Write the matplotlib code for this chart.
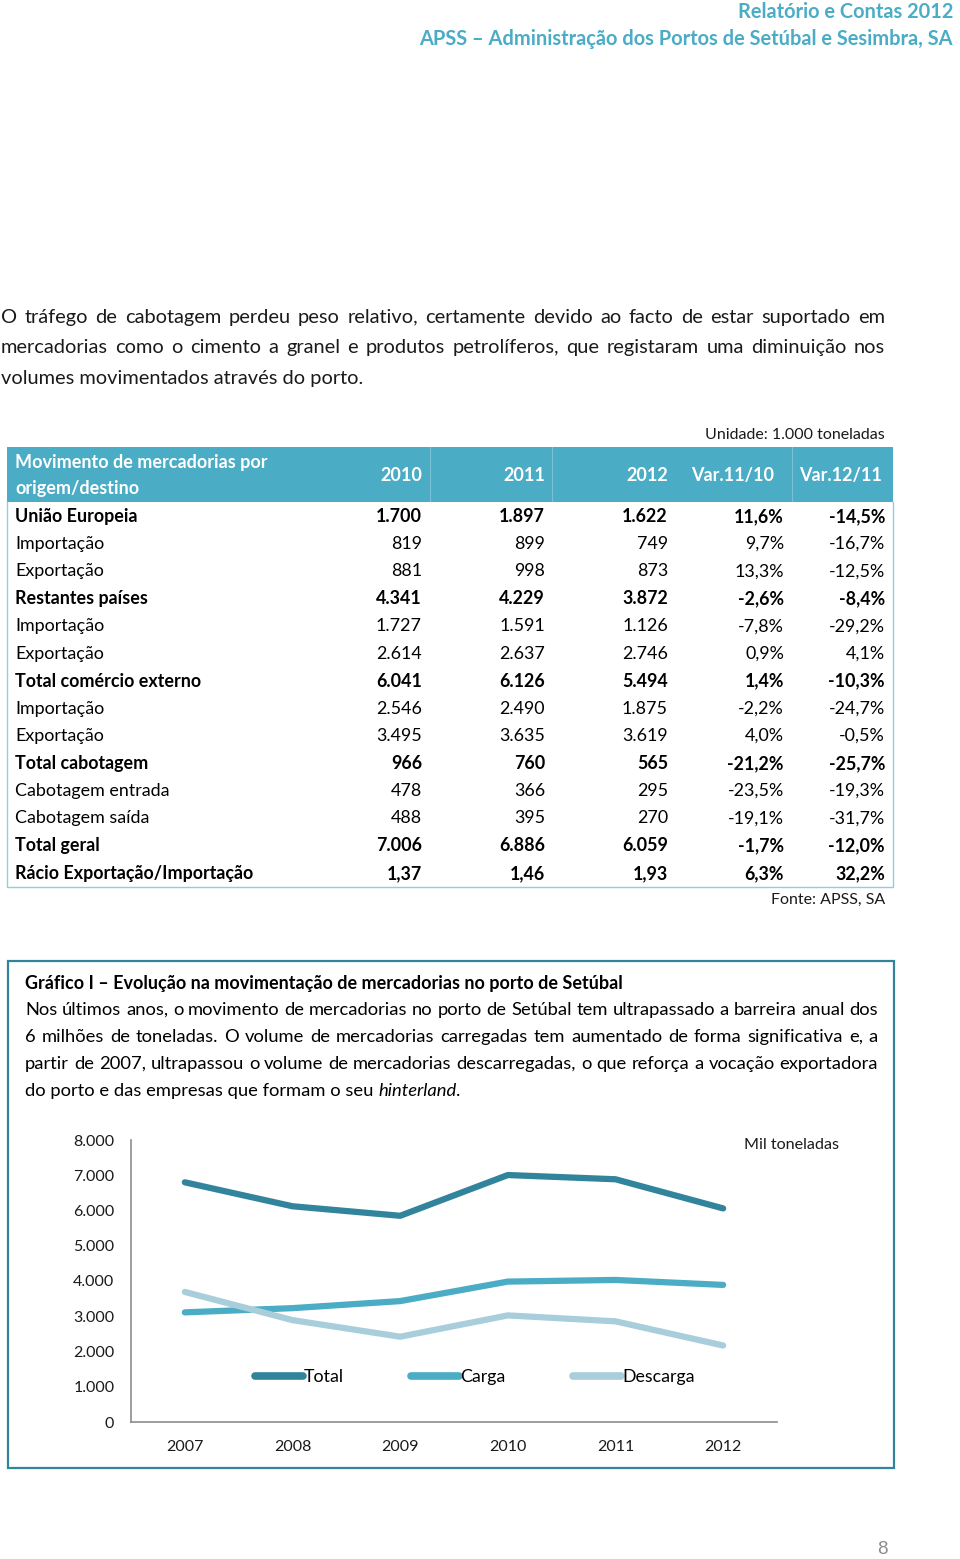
import matplotlib
matplotlib.use("Agg")
import matplotlib.pyplot as plt
from matplotlib.patches import Rectangle

# ---- data -------------------------------------------------------------
years = [2007, 2008, 2009, 2010, 2011, 2012]
total = [6800, 6120, 5850, 7006, 6886, 6059]
carga = [3110, 3230, 3430, 3983, 4030, 3889]
descarga = [3690, 2890, 2420, 3024, 2856, 2170]
yticks = [0, 1000, 2000, 3000, 4000, 5000, 6000, 7000, 8000]

table_cols = ["2010", "2011", "2012", "Var.11/10", "Var.12/11"]
row_labels = ["União Europeia", "Importação", "Exportação", "Restantes países",
              "Importação", "Exportação", "Total comércio externo", "Importação",
              "Exportação", "Total cabotagem", "Cabotagem entrada", "Cabotagem saída",
              "Total geral", "Rácio Exportação/Importação"]
row_bold = [True, False, False, True, False, False, True, False, False,
            True, False, False, True, True]
col_2010 = ["1.700", "819", "881", "4.341", "1.727", "2.614", "6.041", "2.546",
            "3.495", "966", "478", "488", "7.006", "1,37"]
col_2011 = ["1.897", "899", "998", "4.229", "1.591", "2.637", "6.126", "2.490",
            "3.635", "760", "366", "395", "6.886", "1,46"]
col_2012 = ["1.622", "749", "873", "3.872", "1.126", "2.746", "5.494", "1.875",
            "3.619", "565", "295", "270", "6.059", "1,93"]
var_11_10 = ["11,6%", "9,7%", "13,3%", "-2,6%", "-7,8%", "0,9%", "1,4%", "-2,2%",
             "4,0%", "-21,2%", "-23,5%", "-19,1%", "-1,7%", "6,3%"]
var_12_11 = ["-14,5%", "-16,7%", "-12,5%", "-8,4%", "-29,2%", "4,1%", "-10,3%",
             "-24,7%", "-0,5%", "-25,7%", "-19,3%", "-31,7%", "-12,0%", "32,2%"]

intro = ["O tráfego de cabotagem perdeu peso relativo, certamente devido ao facto de estar suportado em",
         "mercadorias como o cimento a granel e produtos petrolíferos, que registaram uma diminuição nos",
         "volumes movimentados através do porto."]
box_title = "Gráfico I – Evolução na movimentação de mercadorias no porto de Setúbal"
box_text = ["Nos últimos anos, o movimento de mercadorias no porto de Setúbal tem ultrapassado a barreira anual dos",
            "6 milhões de toneladas. O volume de mercadorias carregadas tem aumentado de forma significativa e, a",
            "partir de 2007, ultrapassou o volume de mercadorias descarregadas, o que reforça a vocação exportadora"]

# ---- style ------------------------------------------------------------
TEAL = "#4BACC6"
DARK = "#31849B"
PALE = "#A8CEDB"
FONT = ["Lato", "DejaVu Sans"]

plt.rcParams["font.family"] = FONT

fig = plt.figure(figsize=(9.6, 15.59), dpi=100)
page = fig.add_axes([0, 0, 1, 1])
page.set_xlim(0, 960)
page.set_ylim(1559, 0)
page.axis("off")
renderer = fig.canvas.get_renderer()


def justify(text, x0, x1, y, **kw):
    words = text.split()
    arts = [page.text(0, y, w, va="center", ha="left", **kw) for w in words]
    widths = [a.get_window_extent(renderer).width for a in arts]
    gap = (x1 - x0 - sum(widths)) / (len(words) - 1)
    x = x0
    for a, w in zip(arts, widths):
        a.set_x(x)
        x += w + gap


def flow(pieces, x0, y, **kw):
    x = x0
    for txt, extra in pieces:
        a = page.text(x, y, txt, va="center", ha="left", **kw, **extra)
        x += a.get_window_extent(renderer).width


# header
page.text(953, 12, "Relatório e Contas 2012", ha="right", va="center",
          fontsize=14.4, fontweight="bold", color=TEAL)
page.text(953, 39, "APSS – Administração dos Portos de Setúbal e Sesimbra, SA",
          ha="right", va="center", fontsize=14.4, fontweight="bold", color=TEAL)

# intro paragraph
justify(intro[0], 1, 885, 317, fontsize=14.4, color="#1a1a1a")
justify(intro[1], 1, 885, 347, fontsize=14.4, color="#1a1a1a")
page.text(1, 378, intro[2], va="center", fontsize=14.4, color="#1a1a1a")

# table
page.text(885, 435, "Unidade: 1.000 toneladas", ha="right", va="center", fontsize=11.5,
          color="#1a1a1a")
page.add_patch(Rectangle((7, 447), 886, 55, facecolor=TEAL, edgecolor="none"))
for xs in [430, 552, 792]:
    page.plot([xs, xs], [447, 502], color="white", lw=0.8, alpha=0.25)
page.plot([7, 7, 893, 893], [502, 887, 887, 502], color="#92CDDC", lw=1)
page.text(15, 462, "Movimento de mercadorias por", va="center", fontsize=13,
          fontweight="bold", color="white")
page.text(15, 488, "origem/destino", va="center", fontsize=13,
          fontweight="bold", color="white")
col_x = [422, 545, 668, 774, 882]
for cx, name in zip(col_x, table_cols):
    page.text(cx, 475, name, ha="right", va="center", fontsize=13,
              fontweight="bold", color="white")

value_x = [422, 545, 668, 784, 885]
columns = [col_2010, col_2011, col_2012, var_11_10, var_12_11]
for i, label in enumerate(row_labels):
    y = 516.5 + i * 27.45
    wt = "bold" if row_bold[i] else "normal"
    page.text(15, y, label, va="center", fontsize=12.9, fontweight=wt, color="black")
    for cx, col in zip(value_x, columns):
        page.text(cx, y, col[i], ha="right", va="center", fontsize=12.9,
                  fontweight=wt, color="black")
page.text(885, 900, "Fonte: APSS, SA", ha="right", va="center", fontsize=11.5,
          color="#1a1a1a")

# chart box
page.add_patch(Rectangle((8, 961), 886, 507, facecolor="none", edgecolor=DARK, lw=1.6))
page.text(25, 983, box_title, va="center", fontsize=13, fontweight="bold", color="black")
for k, line in enumerate(box_text):
    justify(line, 25, 878, 1010 + k * 27, fontsize=13.2, color="black")
flow([("do porto e das empresas que formam o seu ", {}), ("hinterland", {"style": "italic"}),
      (".", {})], 25, 1091, fontsize=13.2, color="black")

# line chart
ax = fig.add_axes([131 / 960, (1559 - 1422) / 1559, 646 / 960, 282 / 1559])
x = range(len(years))
ax.plot(x, total, color=DARK, lw=4.5, solid_capstyle="round", solid_joinstyle="round",
        label="Total")
ax.plot(x, carga, color=TEAL, lw=4.5, solid_capstyle="round", solid_joinstyle="round",
        label="Carga")
ax.plot(x, descarga, color=PALE, lw=4.5, solid_capstyle="round", solid_joinstyle="round",
        label="Descarga")
ax.set_xlim(-0.5, len(years) - 0.5)
ax.set_ylim(0, 8000)
ax.set_xticks(list(x))
ax.set_xticklabels([str(v) for v in years])
ax.set_yticks(yticks)
ax.set_yticklabels([f"{v:,}".replace(",", ".") for v in yticks])
ax.tick_params(length=0, labelsize=11.5, colors="#1a1a1a")
ax.tick_params(axis="y", pad=12)
ax.tick_params(axis="x", pad=13)
for s in ["top", "right"]:
    ax.spines[s].set_visible(False)
for s in ["left", "bottom"]:
    ax.spines[s].set_color("#8c8c8c")
    ax.spines[s].set_linewidth(1.2)
ax.patch.set_alpha(0)
leg = ax.legend(ncol=3, loc="center left", bbox_to_anchor=(0.192, 0.16), frameon=False,
                fontsize=12.8, handlelength=2.7, handletextpad=0.05, columnspacing=3.8,
                borderpad=0, borderaxespad=0)
for h in leg.get_lines():
    h.set_linewidth(5.5)
    h.set_solid_capstyle("round")
page.text(744, 1145, "Mil toneladas", va="center", fontsize=11.6, color="#1a1a1a")

# page number
page.text(882, 1549, "8", ha="center", va="center", fontsize=13.5, color="#8c8c8c",
          family=["Liberation Sans", "DejaVu Sans"])

fig.savefig("out.png", dpi=100)
